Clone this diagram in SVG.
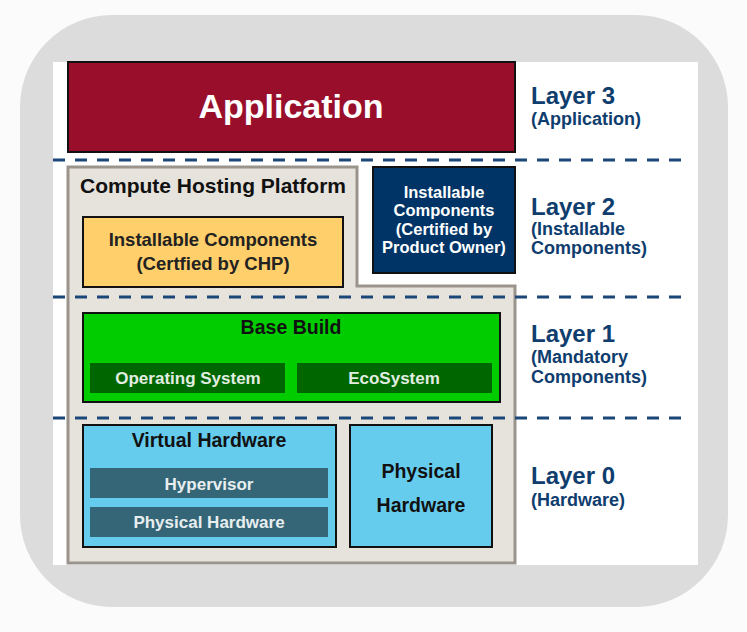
<svg xmlns="http://www.w3.org/2000/svg" width="747" height="632" viewBox="0 0 747 632">
<style>
text{font-family:"Liberation Sans",Arial,sans-serif;font-weight:bold;}
.box{stroke:#111;stroke-width:2;}
.dash{stroke:#1a4678;stroke-width:3;stroke-dasharray:12 10;fill:none;}
.lay{fill:#0f3d6e;}
.big{font-size:24px;}
.sub{font-size:18px;}
.c{text-anchor:middle;}
</style>
<rect x="0" y="0" width="747" height="632" fill="#fbfbfb"/>
<rect x="20" y="15" width="708" height="592" rx="92" ry="92" fill="#dcdcdc"/>
<rect x="53" y="62" width="645" height="503" fill="#ffffff"/>

<g id="chp">
<polygon points="68,167 357,167 357,286 515,286 515,563 68,563" fill="#e6e2dc" stroke="#9b948c" stroke-width="3"/>
<text x="80" y="193" font-size="21" fill="#111">Compute Hosting Platform</text>
</g>

<g id="connectors">
<line class="dash" x1="53" y1="160" x2="690" y2="160"/>
<line class="dash" x1="53" y1="297" x2="690" y2="297"/>
<line class="dash" x1="53" y1="418" x2="690" y2="418"/>
</g>

<g id="application">
<rect class="box" x="68" y="62" width="447" height="90" fill="#990f2b"/>
<text class="c" x="291" y="118" font-size="34" fill="#ffffff">Application</text>
</g>

<g id="chp-installable">
<rect class="box" x="83" y="217" width="260" height="70" fill="#fecf6a"/>
<text class="c" x="213" y="246" font-size="18.5" fill="#222">Installable Components</text>
<text class="c" x="213" y="270" font-size="18.5" fill="#222">(Certfied by CHP)</text>
</g>

<g id="po-installable">
<rect class="box" x="373" y="167" width="142" height="106" fill="#003466"/>
<text class="c" x="444" y="198" font-size="16.5" fill="#ffffff">Installable</text>
<text class="c" x="444" y="216" font-size="16.5" fill="#ffffff">Components</text>
<text class="c" x="444" y="235" font-size="16.5" fill="#ffffff">(Certified by</text>
<text class="c" x="444" y="253" font-size="16.5" fill="#ffffff">Product Owner)</text>
</g>

<g id="base-build">
<rect class="box" x="83" y="313" width="417" height="89" fill="#00cc00"/>
<text class="c" x="291" y="334" font-size="19.5" fill="#111">Base Build</text>
<rect x="90" y="363" width="195" height="30" fill="#006600"/>
<text class="c" x="188" y="384" font-size="17" fill="#e2eee2">Operating System</text>
<rect x="297" y="363" width="195" height="30" fill="#006600"/>
<text class="c" x="394" y="384" font-size="17" fill="#e2eee2">EcoSystem</text>
</g>

<g id="virtual-hardware">
<rect class="box" x="83" y="425" width="253" height="122" fill="#66ccee"/>
<text class="c" x="209" y="447" font-size="19.5" fill="#111">Virtual Hardware</text>
<rect x="90" y="468" width="238" height="30" fill="#356677"/>
<text class="c" x="209" y="490" font-size="17" fill="#e8eef0">Hypervisor</text>
<rect x="90" y="507" width="238" height="30" fill="#356677"/>
<text class="c" x="209" y="528" font-size="17" fill="#e8eef0">Physical Hardware</text>
</g>

<g id="physical-hardware">
<rect class="box" x="350" y="425" width="142" height="122" fill="#66ccee"/>
<text class="c" x="421" y="478" font-size="19.5" fill="#111">Physical</text>
<text class="c" x="421" y="512" font-size="19.5" fill="#111">Hardware</text>
</g>

<g id="layer3">
<text class="lay big" x="531" y="104">Layer 3</text>
<text class="lay sub" x="531" y="125">(Application)</text>
</g>
<g id="layer2">
<text class="lay big" x="531" y="215">Layer 2</text>
<text class="lay sub" x="531" y="235">(Installable</text>
<text class="lay sub" x="531" y="254">Components)</text>
</g>
<g id="layer1">
<text class="lay big" x="531" y="342">Layer 1</text>
<text class="lay sub" x="531" y="363">(Mandatory</text>
<text class="lay sub" x="531" y="383">Components)</text>
</g>
<g id="layer0">
<text class="lay big" x="531" y="484">Layer 0</text>
<text class="lay sub" x="531" y="506">(Hardware)</text>
</g>
</svg>
